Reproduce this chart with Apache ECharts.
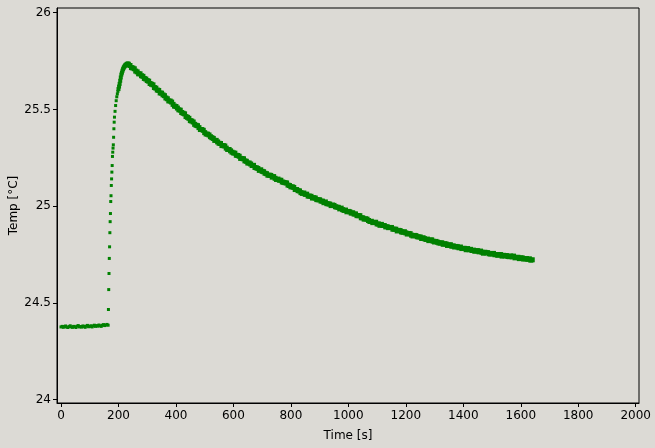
<!DOCTYPE html>
<html>
<head>
<meta charset="utf-8">
<script src="https://cdn.jsdelivr.net/npm/echarts@6/dist/echarts.min.js"></script>
<style>
html,body{margin:0;padding:0;background:#dcdad5;}
#c{width:655px;height:448px;}
</style>
</head>
<body>
<div id="c"></div>
<script>
// Sampling grids (start time, step in s) for each measured segment
const flatStart = 0, flatStep = 4;
const flatTemps = [
24.376,24.379,24.374,24.378,24.381,24.375,24.373,24.378,24.382,24.376,
24.374,24.379,24.377,24.373,24.380,24.383,24.376,24.378,24.375,24.381,
24.379,24.374,24.380,24.384,24.377,24.379,24.382,24.376,24.381,24.385,
24.379,24.383,24.380,24.386,24.382,24.379,24.385,24.388,24.383,24.386,
24.389,24.385];
const riseStart = 165, riseStep = 1;
const riseTemps = [24.466,24.569,24.652,24.730,24.790,24.863,24.920,24.962,25.024,25.054,
25.107,25.141,25.176,25.210,25.257,25.279,25.300,25.317,25.356,25.400,25.434];
const peakStart = 186, peakStep = 2;
const peakTemps = [25.46,25.49,25.52,25.545,25.565,25.58,25.593,25.605,25.618,25.632,
25.648,25.665,25.68,25.69,25.70,25.708,25.715,25.72,25.724,25.73,25.728,25.735,25.732,
25.738,25.733,25.736,25.729];
const decayStart = 240, decayStep = 5;
const decayTemps = [
25.727,25.716,25.714,25.710,25.698,25.694,25.684,25.684,25.674,25.671,25.660,25.657,
25.649,25.646,25.634,25.630,25.627,25.613,25.610,25.600,25.598,25.585,25.584,25.575,
25.571,25.559,25.555,25.544,25.543,25.538,25.526,25.517,25.515,25.507,25.498,25.496,
25.484,25.480,25.477,25.463,25.459,25.454,25.442,25.440,25.435,25.423,25.418,25.416,
25.406,25.396,25.396,25.392,25.380,25.373,25.372,25.368,25.359,25.354,25.350,25.340,
25.340,25.332,25.325,25.324,25.313,25.313,25.311,25.300,25.293,25.293,25.286,25.279,
25.275,25.274,25.263,25.262,25.258,25.247,25.246,25.245,25.234,25.232,25.223,25.223,
25.218,25.210,25.211,25.200,25.198,25.195,25.185,25.188,25.180,25.178,25.170,25.168,
25.160,25.160,25.159,25.150,25.153,25.144,25.138,25.140,25.134,25.134,25.125,25.123,
25.121,25.120,25.109,25.107,25.100,25.100,25.097,25.086,25.086,25.080,25.079,25.070,
25.066,25.068,25.061,25.062,25.052,25.052,25.051,25.042,25.044,25.042,25.034,25.033,
25.033,25.026,25.026,25.018,25.022,25.013,25.012,25.011,25.003,25.006,25.004,24.997,
24.995,24.994,24.986,24.990,24.982,24.978,24.980,24.971,24.973,24.971,24.964,24.966,
24.959,24.960,24.951,24.951,24.951,24.940,24.940,24.933,24.935,24.933,24.926,24.921,
24.922,24.915,24.916,24.917,24.908,24.908,24.901,24.906,24.900,24.900,24.893,24.894,
24.889,24.890,24.890,24.881,24.881,24.881,24.872,24.875,24.874,24.867,24.865,24.868,
24.862,24.856,24.859,24.858,24.850,24.846,24.849,24.848,24.842,24.841,24.841,24.833,
24.837,24.832,24.828,24.830,24.822,24.825,24.826,24.819,24.815,24.818,24.814,24.810,
24.809,24.811,24.803,24.806,24.805,24.797,24.799,24.801,24.793,24.795,24.789,24.792,
24.790,24.785,24.789,24.781,24.782,24.782,24.775,24.781,24.775,24.777,24.771,24.773,
24.767,24.770,24.770,24.764,24.768,24.762,24.757,24.762,24.759,24.760,24.754,24.753,
24.754,24.756,24.749,24.750,24.746,24.750,24.750,24.742,24.746,24.743,24.745,24.740,
24.739,24.743,24.738,24.742,24.733,24.735,24.736,24.729,24.733,24.733,24.727,24.728,
24.729,24.725,24.728,24.721,24.723];

const xTicks = [0,200,400,600,800,1000,1200,1400,1600,1800,2000];
const yTicks = [24,24.5,25,25.5,26];
const yTickLabels = ['24','24.5','25','25.5','26'];

function seg(start, step, arr){ return arr.map((v,i)=>[start+i*step, v]); }
const data = [].concat(
  seg(flatStart, flatStep, flatTemps),
  seg(riseStart, riseStep, riseTemps),
  seg(peakStart, peakStep, peakTemps),
  seg(decayStart, decayStep, decayTemps)
);

const FONT = 'DejaVu Sans';
const chart = echarts.init(document.getElementById('c'), null, {renderer:'canvas'});
chart.setOption({
  animation:false,
  backgroundColor:'#dcdad5',
  textStyle:{fontFamily:FONT},
  grid:{left:57,right:16,top:8,bottom:45,containLabel:false,outerBoundsMode:'none',
        show:true,borderColor:'#000',borderWidth:1,backgroundColor:'transparent'},
  xAxis:{
    type:'value', min:-14, max:2011.5,
    name:'Time [s]', nameLocation:'middle', nameGap:27, nameMoveOverlap:false,
    nameTextStyle:{color:'#000',fontSize:12,fontFamily:FONT},
    axisLine:{show:true,onZero:false,lineStyle:{color:'#000',width:1}},
    axisTick:{show:true,length:4,lineStyle:{color:'#000'},customValues:xTicks},
    axisLabel:{color:'#000',fontSize:12,fontFamily:FONT,margin:7,customValues:xTicks,
      formatter:function(v){ return String(v); }},
    splitLine:{show:false}
  },
  yAxis:{
    type:'value', min:23.983, max:26.024,
    name:'Temp [°C]', nameLocation:'middle', nameGap:37, nameMoveOverlap:false,
    nameTextStyle:{color:'#000',fontSize:12,fontFamily:FONT},
    axisLine:{show:true,onZero:false,lineStyle:{color:'#000',width:1}},
    axisTick:{show:true,length:4,lineStyle:{color:'#000'},customValues:yTicks},
    axisLabel:{color:'#000',fontSize:12,fontFamily:FONT,margin:6,customValues:yTicks,
      formatter:function(v){ const i=yTicks.indexOf(v); return i>=0?yTickLabels[i]:String(v); }},
    splitLine:{show:false}
  },
  series:[{
    type:'scatter',
    data:data,
    symbol:'rect',
    symbolSize:function(v){ const t=v[0]; return t<200?3:(t<240?4:5); },
    itemStyle:{color:'#008000',opacity:1},
    emphasis:{disabled:true}
  }]
});
</script>
</body>
</html>
